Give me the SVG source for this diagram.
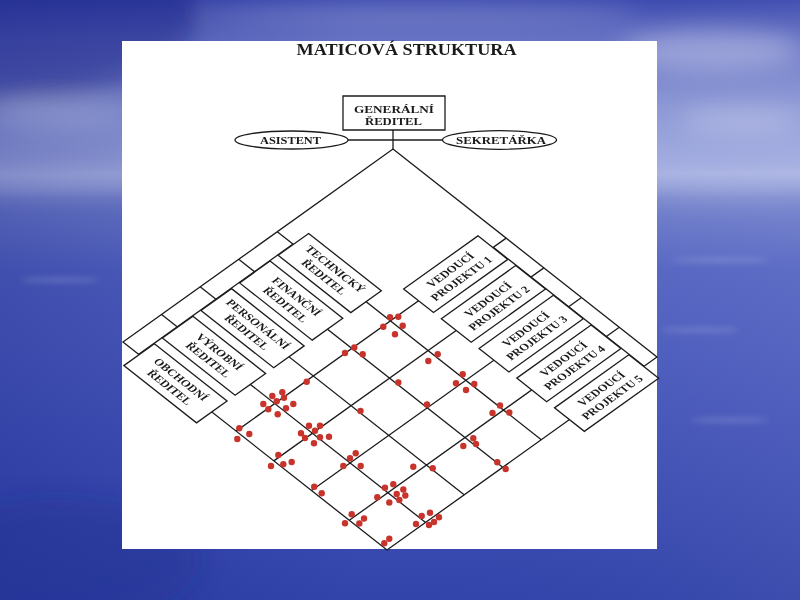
<svg xmlns="http://www.w3.org/2000/svg" width="800" height="600" viewBox="0 0 800 600">
<defs>
  <linearGradient id="sky" x1="0" y1="0" x2="0" y2="1">
    <stop offset="0" stop-color="#3a48ae"/>
    <stop offset="0.07" stop-color="#6672c4"/>
    <stop offset="0.18" stop-color="#8c98d6"/>
    <stop offset="0.29" stop-color="#a6b0e2"/>
    <stop offset="0.33" stop-color="#7482cc"/>
    <stop offset="0.45" stop-color="#5565c2"/>
    <stop offset="0.72" stop-color="#4454b8"/>
    <stop offset="1" stop-color="#3244aa"/>
  </linearGradient>
  <linearGradient id="shade" x1="0" y1="0" x2="1" y2="0">
    <stop offset="0" stop-color="#101c80" stop-opacity="0.3"/>
    <stop offset="0.45" stop-color="#101c80" stop-opacity="0"/>
    <stop offset="1" stop-color="#ffffff" stop-opacity="0.05"/>
  </linearGradient>
  <filter id="blur" x="-50%" y="-50%" width="200%" height="200%"><feGaussianBlur stdDeviation="12"/></filter>
  <filter id="blur2" x="-50%" y="-50%" width="200%" height="200%"><feGaussianBlur stdDeviation="3"/></filter>
</defs>
<style>
  .ln{fill:none;stroke:#1c1c1c;stroke-width:1.3;vector-effect:non-scaling-stroke}
  .bx{fill:#ffffff;stroke:#1c1c1c;stroke-width:1.3;vector-effect:non-scaling-stroke}
  .t{font-family:"Liberation Serif","Times New Roman",serif;font-weight:bold;fill:#1a1a1a}
  .bt{font-size:11.5px;text-anchor:middle}
  .tt{font-size:11px;text-anchor:middle}
  .dot{fill:#c8342c}
</style>

<!-- background -->
<rect x="0" y="0" width="800" height="600" fill="url(#sky)"/>
<rect x="0" y="0" width="800" height="600" fill="url(#shade)"/>
<g filter="url(#blur)">
  <ellipse cx="10" cy="10" rx="190" ry="90" fill="#1e2a8c" opacity="0.5"/>
  <ellipse cx="710" cy="50" rx="90" ry="20" fill="#ffffff" opacity="0.3"/>
  <ellipse cx="740" cy="120" rx="60" ry="12" fill="#ffffff" opacity="0.25"/>
  <ellipse cx="60" cy="115" rx="70" ry="12" fill="#ffffff" opacity="0.18"/>
  <ellipse cx="420" cy="14" rx="220" ry="12" fill="#ffffff" opacity="0.2"/>
  <ellipse cx="60" cy="185" rx="110" ry="8" fill="#ffffff" opacity="0.25"/>
  <ellipse cx="730" cy="190" rx="110" ry="8" fill="#ffffff" opacity="0.25"/>
  <ellipse cx="60" cy="560" rx="140" ry="60" fill="#1e2a8c" opacity="0.3"/>
</g>
<g filter="url(#blur2)" opacity="0.22">
  <ellipse cx="720" cy="260" rx="50" ry="2" fill="#ffffff"/>
  <ellipse cx="700" cy="330" rx="40" ry="2" fill="#ffffff"/>
  <ellipse cx="60" cy="280" rx="40" ry="2" fill="#ffffff"/>
  <ellipse cx="730" cy="420" rx="40" ry="2" fill="#ffffff"/>
</g>

<!-- white panel -->
<rect x="122" y="41" width="535" height="508" fill="#ffffff"/>

<text class="t" x="406.5" y="55" font-size="16" text-anchor="middle" textLength="220" lengthAdjust="spacingAndGlyphs">MATICOVÁ STRUKTURA</text>

<!-- connectors -->
<g id="connectors">
  <line class="ln" x1="393" y1="130" x2="393" y2="149"/>
  <line class="ln" x1="348" y1="140" x2="442.5" y2="140"/>
  <g transform="matrix(0.78571 0.61905 -0.80357 0.5744 393 149)">
    <path class="ln" d="M0,0H336V336H0Z M0,144H336 M0,192H336 M0,240H336 M0,288H336 M144,0V336 M192,0V336 M240,0V336 M288,0V336 M20,144V336 M144,16H336"/>
  </g>
</g>

<!-- top nodes -->
<g id="generalni-reditel">
  <rect class="bx" x="343" y="96" width="102" height="34"/>
  <text class="t tt" x="394" y="112.5" textLength="80" lengthAdjust="spacingAndGlyphs">GENERÁLNÍ</text>
  <text class="t tt" x="393.5" y="125" textLength="57" lengthAdjust="spacingAndGlyphs">ŘEDITEL</text>
</g>
<g id="asistent">
  <ellipse class="bx" cx="291.5" cy="140" rx="56.5" ry="9"/>
  <text class="t tt" x="290.5" y="144" textLength="61" lengthAdjust="spacingAndGlyphs">ASISTENT</text>
</g>
<g id="sekretarka">
  <ellipse class="bx" cx="499.5" cy="140" rx="57" ry="9.3"/>
  <text class="t tt" x="501" y="144" textLength="90" lengthAdjust="spacingAndGlyphs">SEKRETÁŘKA</text>
</g>

<!-- matrix nodes -->
<g transform="matrix(0.78571 0.61905 -0.80357 0.5744 393 149)">
  <g id="technicky-reditel">
    <rect class="bx" x="20.5" y="125" width="92.5" height="38"/>
    <text class="t bt" x="66.7" y="141">TECHNICKÝ</text>
    <text class="t bt" x="66.7" y="155">ŘEDITEL</text>
  </g>
  <g id="financni-reditel">
    <rect class="bx" x="20.5" y="173" width="92.5" height="38"/>
    <text class="t bt" x="66.7" y="189">FINANČNÍ</text>
    <text class="t bt" x="66.7" y="203">ŘEDITEL</text>
  </g>
  <g id="personalni-reditel">
    <rect class="bx" x="20.5" y="221" width="92.5" height="38"/>
    <text class="t bt" x="66.7" y="237">PERSONÁLNÍ</text>
    <text class="t bt" x="66.7" y="251">ŘEDITEL</text>
  </g>
  <g id="vyrobni-reditel">
    <rect class="bx" x="20.5" y="269" width="92.5" height="38"/>
    <text class="t bt" x="66.7" y="285">VÝROBNÍ</text>
    <text class="t bt" x="66.7" y="299">ŘEDITEL</text>
  </g>
  <g id="obchodni-reditel">
    <rect class="bx" x="20.5" y="317" width="92.5" height="38"/>
    <text class="t bt" x="66.7" y="333">OBCHODNÍ</text>
    <text class="t bt" x="66.7" y="347">ŘEDITEL</text>
  </g>

  <g id="vedouci-projektu-1">
    <rect class="bx" x="125" y="16.5" width="38" height="92.5"/>
    <text class="t bt" transform="translate(144,62.7) rotate(-90)"><tspan x="0" y="-3">VEDOUCÍ</tspan><tspan x="0" y="11">PROJEKTU 1</tspan></text>
  </g>
  <g id="vedouci-projektu-2">
    <rect class="bx" x="173" y="16.5" width="38" height="92.5"/>
    <text class="t bt" transform="translate(192,62.7) rotate(-90)"><tspan x="0" y="-3">VEDOUCÍ</tspan><tspan x="0" y="11">PROJEKTU 2</tspan></text>
  </g>
  <g id="vedouci-projektu-3">
    <rect class="bx" x="221" y="16.5" width="38" height="92.5"/>
    <text class="t bt" transform="translate(240,62.7) rotate(-90)"><tspan x="0" y="-3">VEDOUCÍ</tspan><tspan x="0" y="11">PROJEKTU 3</tspan></text>
  </g>
  <g id="vedouci-projektu-4">
    <rect class="bx" x="269" y="16.5" width="38" height="92.5"/>
    <text class="t bt" transform="translate(288,62.7) rotate(-90)"><tspan x="0" y="-3">VEDOUCÍ</tspan><tspan x="0" y="11">PROJEKTU 4</tspan></text>
  </g>
  <g id="vedouci-projektu-5">
    <rect class="bx" x="317" y="16.5" width="38" height="92.5"/>
    <text class="t bt" transform="translate(336,62.7) rotate(-90)"><tspan x="0" y="-3">VEDOUCÍ</tspan><tspan x="0" y="11">PROJEKTU 5</tspan></text>
  </g>
</g>

<!-- involvement dots -->
<g id="dots" class="dot">
  <circle cx="390" cy="317.3" r="3.2"/><circle cx="398.3" cy="316.7" r="3.2"/><circle cx="383.3" cy="326.7" r="3.2"/><circle cx="402.7" cy="325.7" r="3.2"/><circle cx="395" cy="334.3" r="3.2"/>
  <circle cx="437.7" cy="354.3" r="3.2"/><circle cx="428.3" cy="361" r="3.2"/>
  <circle cx="462.7" cy="374.3" r="3.2"/><circle cx="456" cy="383.3" r="3.2"/><circle cx="474.3" cy="384" r="3.2"/><circle cx="466" cy="390" r="3.2"/>
  <circle cx="500" cy="405.5" r="3.2"/><circle cx="492.5" cy="413" r="3.2"/><circle cx="509.3" cy="412.5" r="3.2"/>
  <circle cx="354.3" cy="347.5" r="3.2"/><circle cx="345" cy="353" r="3.2"/><circle cx="362.7" cy="354.2" r="3.2"/>
  <circle cx="398.3" cy="382.5" r="3.2"/>
  <circle cx="427" cy="404.5" r="3.2"/>
  <circle cx="473.3" cy="438.3" r="3.2"/><circle cx="476" cy="444" r="3.2"/><circle cx="463.3" cy="446" r="3.2"/>
  <circle cx="497.3" cy="462.3" r="3.2"/><circle cx="505.7" cy="469" r="3.2"/>
  <circle cx="306.7" cy="381.7" r="3.2"/>
  <circle cx="360.5" cy="411" r="3.2"/>
  <circle cx="413.3" cy="466.7" r="3.2"/><circle cx="432.7" cy="468.3" r="3.2"/>
  <circle cx="272.3" cy="396" r="3.2"/><circle cx="282.3" cy="392.3" r="3.2"/><circle cx="276.7" cy="401.3" r="3.2"/><circle cx="284" cy="397.7" r="3.2"/><circle cx="263.3" cy="404" r="3.2"/><circle cx="268.3" cy="409.3" r="3.2"/><circle cx="286" cy="408.3" r="3.2"/><circle cx="293.3" cy="404" r="3.2"/><circle cx="277.7" cy="414.3" r="3.2"/>
  <circle cx="309" cy="425.7" r="3.2"/><circle cx="320" cy="425.7" r="3.2"/><circle cx="315" cy="430.7" r="3.2"/><circle cx="301" cy="433.3" r="3.2"/><circle cx="305" cy="438" r="3.2"/><circle cx="320" cy="437.3" r="3.2"/><circle cx="329" cy="436.7" r="3.2"/><circle cx="314" cy="443.3" r="3.2"/>
  <circle cx="355.7" cy="453.3" r="3.2"/><circle cx="350" cy="458.3" r="3.2"/><circle cx="343.3" cy="466" r="3.2"/><circle cx="360.7" cy="466" r="3.2"/>
  <circle cx="385" cy="487.7" r="3.2"/><circle cx="393.3" cy="484.3" r="3.2"/><circle cx="377.3" cy="497.3" r="3.2"/><circle cx="396.7" cy="494" r="3.2"/><circle cx="403.3" cy="489.5" r="3.2"/><circle cx="405.3" cy="495.5" r="3.2"/><circle cx="399.3" cy="500" r="3.2"/><circle cx="389.3" cy="502.5" r="3.2"/>
  <circle cx="430" cy="512.7" r="3.2"/><circle cx="421.7" cy="516" r="3.2"/><circle cx="439" cy="517.3" r="3.2"/><circle cx="434" cy="522" r="3.2"/><circle cx="416" cy="524" r="3.2"/><circle cx="429" cy="525" r="3.2"/>
  <circle cx="239.3" cy="428.3" r="3.2"/><circle cx="249.3" cy="434" r="3.2"/><circle cx="237.3" cy="439" r="3.2"/>
  <circle cx="278.3" cy="455" r="3.2"/><circle cx="271" cy="466" r="3.2"/><circle cx="283.3" cy="464.3" r="3.2"/><circle cx="291.7" cy="462" r="3.2"/>
  <circle cx="314.2" cy="486.7" r="3.2"/><circle cx="321.7" cy="493.3" r="3.2"/>
  <circle cx="351.7" cy="514.2" r="3.2"/><circle cx="364" cy="518.5" r="3.2"/><circle cx="345" cy="523.2" r="3.2"/><circle cx="359.3" cy="523.5" r="3.2"/>
  <circle cx="389.3" cy="538.7" r="3.2"/><circle cx="384.3" cy="543.2" r="3.2"/>
</g>
</svg>
